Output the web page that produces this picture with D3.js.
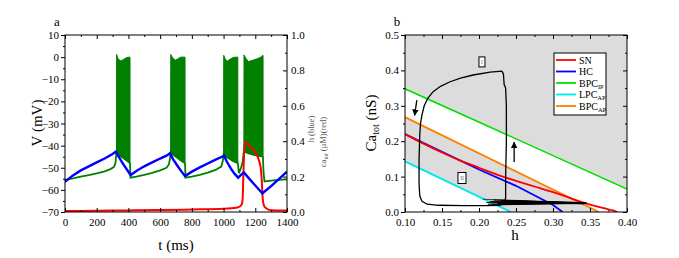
<!DOCTYPE html>
<html><head><meta charset="utf-8">
<script src="https://cdn.jsdelivr.net/npm/d3@7"></script>
<style>
body{margin:0;background:#fff;}
svg{display:block;}
svg text{font-family:"Liberation Serif","Times New Roman",Times,"DejaVu Serif",serif !important;}
</style></head>
<body><svg id="c" width="679" height="258"></svg>
<script>
// ---------- Panel a data ----------
const vT = [0,50,100,150,200,250,290,310,318,322,325,340,360,380,400,410,413,450,500,550,600,640,655,662,666,680,700,720,745,757,760,800,850,900,950,985,995,1000,1022,1040,1060,1080,1090,1097,1110,1120,1128,1140,1160,1180,1210,1235,1248,1252,1258,1300,1350,1400];
const vV = [-55.5,-54.8,-54,-53.3,-52.5,-51.6,-50.5,-49.5,-48,-45,-43,-44,-45,-46,-47.2,-48,-54.5,-54,-53.2,-52.3,-51.2,-50,-48.5,-46,-43,-44,-45,-46,-47.2,-48,-54.5,-54,-53.2,-52.2,-51,-49.5,-47,-44,-45.3,-46,-47,-47.6,-48,-52.5,-50,-47.5,-42.5,-43,-43.5,-44,-44.5,-44.8,-45,-52,-56.2,-55.8,-55.5,-55.2];

const b1T = [325,325.5,335,353,370,389,405,410];
const b1Top = [-43,1.2,-0.8,-1.8,-1.0,-0.2,0,0];
const b1Bot = [-43,-43,-44,-45,-46,-47,-47.8,-48];
const b2T = [666,667,680,698,715,730,750,757];
const b2Top = [-43,1.2,-0.5,-1.4,-0.6,0,0,0];
const b2Bot = [-43,-43,-44,-45,-46,-47,-47.8,-48];
const b3T = [1000,1001,1010,1022,1040,1060,1080,1090];
const b3Top = [-44,0.8,-0.8,-1.9,-1.0,-0.2,0,0];
const b3Bot = [-44,-44,-44.5,-45.3,-46,-47,-47.6,-48];
const b4T = [1128,1129,1140,1156,1180,1210,1235,1249];
const b4Top = [-42.5,1,-0.5,-2,-1.5,-0.8,0,0.8];
const b4Bot = [-42.5,-42.5,-43,-43.5,-44,-44.5,-44.8,-45];

const hT = [0,50,100,150,200,250,300,320,335,360,390,414,450,500,550,600,640,662,680,710,735,757,800,850,900,950,990,1003,1020,1050,1070,1092,1110,1128,1160,1190,1220,1245,1300,1350,1400];
const hV = [0.171,0.207,0.235,0.258,0.28,0.302,0.328,0.341,0.318,0.28,0.24,0.209,0.232,0.258,0.28,0.302,0.318,0.332,0.3,0.26,0.228,0.203,0.228,0.252,0.274,0.296,0.312,0.318,0.285,0.24,0.215,0.194,0.21,0.223,0.19,0.16,0.13,0.106,0.146,0.187,0.228];

const caT = [0,200,400,600,800,1000,1080,1105,1115,1120,1124,1128,1132,1135,1150,1187,1205,1219,1230,1236,1242,1246,1252,1260,1271,1300,1400];
const caV = [0.005,0.007,0.009,0.011,0.014,0.018,0.024,0.033,0.045,0.07,0.18,0.3,0.37,0.394,0.385,0.35,0.33,0.303,0.27,0.237,0.16,0.086,0.045,0.028,0.02,0.01,0.008];

const aXTicks = [0,200,400,600,800,1000,1200,1400];
const aYTicks = [-70,-60,-50,-40,-30,-20,-10,0,10];
const aY2Ticks = [0.0,0.2,0.4,0.6,0.8,1.0];

// ---------- Panel b data ----------
const snH = [0.10,0.125,0.15,0.175,0.20,0.225,0.25,0.275,0.30,0.32,0.34,0.355,0.37,0.38,0.387];
const snC = [0.22,0.193,0.168,0.145,0.125,0.105,0.088,0.072,0.056,0.042,0.027,0.018,0.01,0.005,0.0];
const hcH = [0.10,0.15,0.20,0.25,0.30,0.313];
const hcC = [0.22,0.17,0.12,0.074,0.02,0.0];
const bpcIpH = [0.10,0.40];
const bpcIpC = [0.348,0.065];
const lpcApH = [0.10,0.243];
const lpcApC = [0.143,0.0];
const bpcApH = [0.10,0.362];
const bpcApC = [0.268,0.0];

const cycH = [0.231,0.215,0.192,0.175,0.161,0.148,0.138,0.131,0.126,0.123,0.121,0.120,0.119,0.119,0.120,0.123,0.130,0.145,0.180,0.210,0.228,0.234,0.236,0.236,0.237,0.237,0.236,0.234,0.233,0.231];
const cycC = [0.398,0.395,0.387,0.378,0.368,0.355,0.34,0.322,0.3,0.275,0.25,0.22,0.15,0.08,0.045,0.03,0.022,0.019,0.018,0.018,0.019,0.025,0.04,0.10,0.20,0.30,0.35,0.36,0.39,0.398];
const bandH = [0.205,0.345,0.212,0.344,0.22,0.343,0.228,0.342,0.215,0.345,0.225,0.343,0.235,0.341,0.21,0.344,0.222,0.342,0.23,0.345,0.218,0.343,0.24,0.344];
const bandC = [0.036,0.026,0.022,0.025,0.034,0.024,0.021,0.027,0.03,0.025,0.024,0.026,0.032,0.024,0.027,0.025,0.028,0.023,0.033,0.025,0.02,0.026,0.029,0.025];

const bXTicks = [0.10,0.15,0.20,0.25,0.30,0.35,0.40];
const bYTicks = [0.0,0.1,0.2,0.3,0.4,0.5];
const legendNames = [["SN",""],["HC",""],["BPC","IP"],["LPC","AP"],["BPC","AP"]];
const legendColors = ["#ff0000","#0000ff","#00e000","#00e8f0","#ff8000"];

// ---------- Drawing ----------
const svg = d3.select("#c");
const FONT = "'Liberation Serif','Times New Roman',Times,'DejaVu Serif',serif";

function frame(g, x, y, xTicks, yTicks, xMinor, yMinor, xFmt, yFmt){
  const [x0,x1] = x.range(), [y0,y1] = y.range();
  g.append("g").attr("transform",`translate(0,${y0})`)
    .call(d3.axisBottom(x).tickValues(xMinor).tickSize(-2).tickFormat(""))
    .call(s=>s.select(".domain").remove());
  g.append("g").attr("transform",`translate(0,${y0})`)
    .call(d3.axisBottom(x).tickValues(xTicks).tickSize(-4).tickPadding(6).tickFormat(xFmt))
    .call(s=>s.select(".domain").remove());
  g.append("g").attr("transform",`translate(${x0},0)`)
    .call(d3.axisLeft(y).tickValues(yMinor).tickSize(2).tickFormat(""))
    .call(s=>s.select(".domain").remove());
  g.append("g").attr("transform",`translate(${x0},0)`)
    .call(d3.axisLeft(y).tickValues(yTicks).tickSize(4).tickPadding(2).tickFormat(yFmt))
    .call(s=>s.select(".domain").remove());
  g.append("g").attr("transform",`translate(0,${y1})`)
    .call(d3.axisTop(x).tickValues(xMinor).tickSize(-2).tickFormat(""))
    .call(s=>s.select(".domain").remove());
  g.append("g").attr("transform",`translate(0,${y1})`)
    .call(d3.axisTop(x).tickValues(xTicks).tickSize(-4).tickFormat(""))
    .call(s=>s.select(".domain").remove());
  g.selectAll(".tick text").attr("font-family",FONT).attr("font-size",11).attr("fill","#000");
  g.selectAll(".tick line").attr("stroke","#000");
  g.append("rect").attr("x",x0).attr("y",y1).attr("width",x1-x0).attr("height",y0-y1)
    .attr("fill","none").attr("stroke","#000").attr("stroke-width",1);
}

// ===== Panel a =====
{
  const g = svg.append("g").attr("font-family",FONT);
  const x = d3.scaleLinear().domain([0,1400]).range([65,287]);
  const y = d3.scaleLinear().domain([-70,10]).range([212,35]);
  const y2 = d3.scaleLinear().domain([0,1]).range([212,35]);
  g.append("clipPath").attr("id","clipA").append("rect").attr("x",65).attr("y",35).attr("width",222).attr("height",177);
  const plot = g.append("g").attr("clip-path","url(#clipA)");

  const green = "#007f00";
  const bursts = [[b1T,b1Top,b1Bot],[b2T,b2Top,b2Bot],[b3T,b3Top,b3Bot],[b4T,b4Top,b4Bot]];
  const area = d3.area().x(d=>x(d[0])).y0(d=>y(d[2])).y1(d=>y(d[1]));
  bursts.forEach(([T,Tp,Bt])=>{
    plot.append("path").datum(T.map((t,i)=>[t,Tp[i],Bt[i]]))
      .attr("d",area).attr("fill",green).attr("stroke",green).attr("stroke-width",1);
  });
  const line = d3.line();
  plot.append("path").datum(vT.map((t,i)=>[x(t),y(vV[i])])).attr("d",line)
    .attr("fill","none").attr("stroke",green).attr("stroke-width",1.8);
  plot.append("path").datum(caT.map((t,i)=>[x(t),y2(caV[i])])).attr("d",d3.line().curve(d3.curveMonotoneX))
    .attr("fill","none").attr("stroke","#ff0000").attr("stroke-width",2);
  plot.append("path").datum(hT.map((t,i)=>[x(t),y2(hV[i])])).attr("d",line)
    .attr("fill","none").attr("stroke","#0000ff").attr("stroke-width",2.4);

  frame(g,x,y,aXTicks,aYTicks,d3.range(100,1400,200),d3.range(-65,10,10),d3.format("d"),d3.format("d"));
  g.append("g").attr("transform","translate(287,0)")
    .call(d3.axisRight(y2).tickValues([0.1,0.3,0.5,0.7,0.9]).tickSize(-2).tickFormat(""))
    .call(s=>s.select(".domain").remove());
  g.append("g").attr("transform","translate(287,0)")
    .call(d3.axisRight(y2).tickValues(aY2Ticks).tickSize(-4).tickPadding(4).tickFormat(d3.format(".1f")))
    .call(s=>s.select(".domain").remove())
    .call(s=>s.selectAll("text").attr("font-family",FONT).attr("font-size",11).attr("fill","#000"))
    .call(s=>s.selectAll("line").attr("stroke","#000"));

  g.append("text").attr("x",176).attr("y",250).attr("text-anchor","middle")
    .attr("font-size",15).text("t (ms)");
  g.append("text").attr("transform","translate(42,123) rotate(-90)").attr("text-anchor","middle")
    .attr("font-size",15).text("V (mV)");
  g.append("text").attr("transform","translate(314,129) rotate(-90)").attr("text-anchor","middle")
    .attr("font-size",8.5).attr("fill","#555").text("h (blue)");
  const ct = g.append("text").attr("transform","translate(325.5,142) rotate(-90)").attr("text-anchor","middle")
    .attr("font-size",8.5).attr("fill","#555");
  ct.append("tspan").text("ca");
  ct.append("tspan").attr("font-size",6).attr("dy",2).text("tot");
  ct.append("tspan").attr("dy",-2).text(" (μM)(red)");
  g.append("text").attr("x",57).attr("y",26).attr("text-anchor","middle")
    .attr("font-size",13).text("a");
}

// ===== Panel b =====
{
  const g = svg.append("g").attr("font-family",FONT);
  const x = d3.scaleLinear().domain([0.1,0.4]).range([405,627]);
  const y = d3.scaleLinear().domain([0,0.5]).range([212,35]);
  g.append("clipPath").attr("id","clipB").append("rect").attr("x",405).attr("y",35).attr("width",222).attr("height",177);
  const plot = g.append("g").attr("clip-path","url(#clipB)");
  const gray = "#dcdcdc";
  const L = d3.line().x(d=>x(d[0])).y(d=>y(d[1]));
  const shade = plot.append("g");
  shade.append("path").datum([[bpcIpH[0],bpcIpC[0]],[bpcIpH[1],bpcIpC[1]],[0.4,0.5],[0.1,0.5]])
    .attr("d",L).style("fill",gray).style("fill-opacity",1).style("stroke","none");
  shade.append("path").datum([[bpcApH[0],bpcApC[0]],[bpcApH[1],bpcApC[1]],[lpcApH[1],lpcApC[1]],[lpcApH[0],lpcApC[0]]])
    .attr("d",L).style("fill",gray).style("fill-opacity",1).style("stroke","none");

  const lines = plot.append("g");
  const draw = (H,C,col,w,curve)=>lines.append("path").datum(H.map((h,i)=>[h,C[i]]))
    .attr("d",d3.line().x(d=>x(d[0])).y(d=>y(d[1])).curve(curve||d3.curveLinear))
    .style("fill","none").style("stroke",col).style("stroke-width",w);
  draw(bpcIpH,bpcIpC,legendColors[2],1.5);
  draw(bpcApH,bpcApC,legendColors[4],1.8);
  draw(lpcApH,lpcApC,legendColors[3],1.8);
  draw(hcH,hcC,legendColors[1],1.8);
  draw(snH,snC,legendColors[0],1.8,d3.curveMonotoneX);
  draw(cycH,cycC,"#000",1.3,d3.curveLinear);
  draw(bandH,bandC,"#000",0.7);

  const defs = svg.append("defs");
  defs.append("marker").attr("id","arr").attr("viewBox","0 0 10 10").attr("refX",9).attr("refY",5)
    .attr("markerWidth",5).attr("markerHeight",6).attr("orient","auto")
    .append("path").attr("d","M0,0 L10,5 L0,10 z").attr("fill","#000");
  g.append("line").attr("x1",x(0.116)).attr("y1",y(0.316)).attr("x2",x(0.113)).attr("y2",y(0.273))
    .attr("stroke","#000").attr("stroke-width",1.3).attr("marker-end","url(#arr)");
  g.append("line").attr("x1",x(0.2475)).attr("y1",y(0.141)).attr("x2",x(0.2475)).attr("y2",y(0.197))
    .attr("stroke","#000").attr("stroke-width",1.3).attr("marker-end","url(#arr)");

  const box = (h,c,w,ht,t)=>{
    g.append("rect").attr("x",x(h)-w/2).attr("y",y(c)-ht/2).attr("width",w).attr("height",ht)
      .attr("fill","#fff").attr("stroke","#000").attr("stroke-width",1);
    g.append("text").attr("x",x(h)).attr("y",y(c)+2).attr("text-anchor","middle")
      .attr("font-size",5.5).attr("fill","#666").text(t);
  };
  box(0.204,0.424,6,10,"I");
  box(0.177,0.096,8,11,"II");

  frame(g,x,y,bXTicks,bYTicks,d3.range(0.125,0.4,0.05),d3.range(0.05,0.5,0.1),d3.format(".2f"),d3.format(".1f"));
  g.append("g").attr("transform","translate(627,0)")
    .call(d3.axisRight(y).tickValues(bYTicks).tickSize(-4).tickFormat(""))
    .call(s=>s.select(".domain").remove()).call(s=>s.selectAll("line").attr("stroke","#000"));
  g.append("g").attr("transform","translate(627,0)")
    .call(d3.axisRight(y).tickValues(d3.range(0.05,0.5,0.1)).tickSize(-2).tickFormat(""))
    .call(s=>s.select(".domain").remove()).call(s=>s.selectAll("line").attr("stroke","#000"));

  const lg = g.append("g");
  lg.append("rect").attr("x",554).attr("y",53).attr("width",52).attr("height",62)
    .attr("fill","#fff").attr("stroke","#000").attr("stroke-width",1);
  legendNames.forEach((n,i)=>{
    const yy = 60 + i*11.5;
    lg.append("line").attr("x1",556).attr("x2",576).attr("y1",yy).attr("y2",yy)
      .attr("stroke",legendColors[i]).attr("stroke-width",1.8);
    const t = lg.append("text").attr("x",579).attr("y",yy+3.5).attr("font-size",10);
    t.append("tspan").text(n[0]);
    if(n[1]) t.append("tspan").attr("font-size",6.5).attr("dy",2).text(n[1]);
  });

  g.append("text").attr("x",515).attr("y",240).attr("text-anchor","middle")
    .attr("font-size",15).text("h");
  const yl = g.append("text").attr("transform","translate(376,123) rotate(-90)").attr("text-anchor","middle")
    .attr("font-size",15);
  yl.append("tspan").text("Ca");
  yl.append("tspan").attr("font-size",10).attr("dy",3).text("tot");
  yl.append("tspan").attr("dy",-3).text(" (nS)");
  g.append("text").attr("x",397).attr("y",26).attr("text-anchor","middle")
    .attr("font-size",13).text("b");
}
</script></body></html>
